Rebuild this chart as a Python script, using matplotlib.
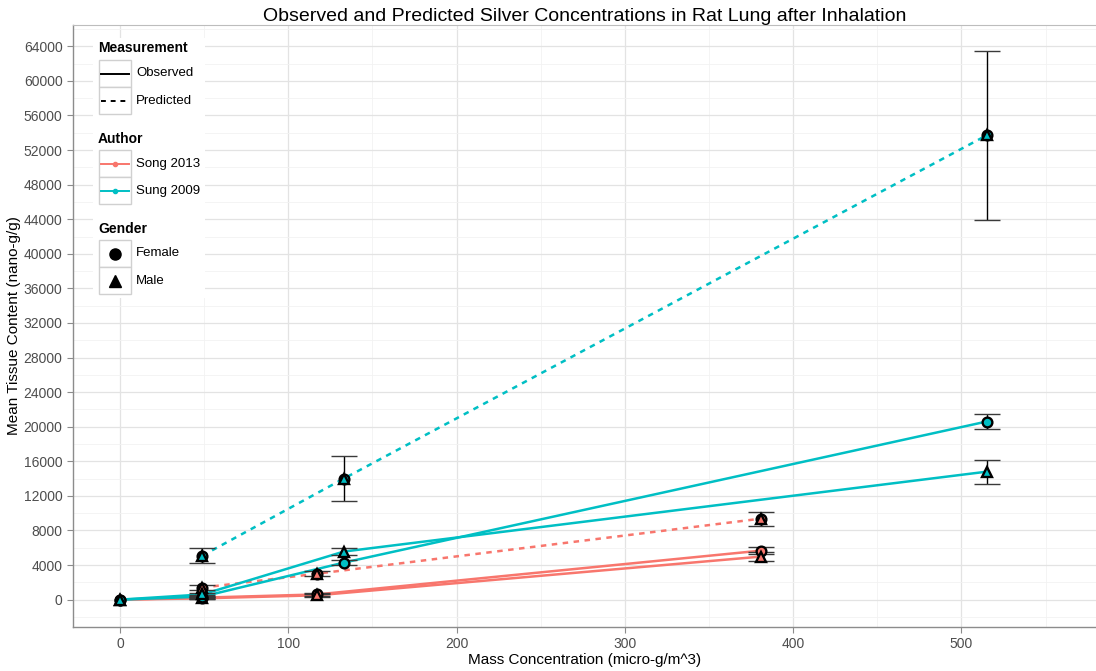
import matplotlib
matplotlib.use("Agg")
import matplotlib.pyplot as plt
from matplotlib.lines import Line2D
from matplotlib.patches import Rectangle
from matplotlib.ticker import MultipleLocator

plt.rcParams['font.family'] = ['Liberation Sans', 'DejaVu Sans']

# Song 2013
song_x = [0, 49, 117, 381]
song_obs_f = [0, 230, 600, 5670]
song_obs_f_sd = [0, 120, 200, 380]
song_obs_m = [0, 150, 500, 4980]
song_obs_m_sd = [0, 120, 200, 560]
song_pred_x = [49, 117, 381]
song_pred = [1390, 3000, 9370]
song_pred_sd = [250, 300, 800]

# Sung 2009
sung_x = [0, 49, 133, 515]
sung_obs_f = [0, 350, 4280, 20600]
sung_obs_f_sd = [0, 150, 300, 900]
sung_obs_m = [0, 600, 5560, 14800]
sung_obs_m_sd = [0, 150, 450, 1400]
sung_pred_x = [49, 133, 515]
sung_pred = [5090, 14000, 53700]
sung_pred_sd = [870, 2600, 9780]

authors = ["Song 2013", "Sung 2009"]
author_colors = {"Song 2013": "#F8766D", "Sung 2009": "#00BFC4"}
measurements = ["Observed", "Predicted"]
genders = ["Female", "Male"]
gender_markers = {"Female": "o", "Male": "^"}

W, H = 1096, 671
fig = plt.figure(figsize=(W / 100, H / 100), dpi=100)
ax = fig.add_axes([73 / W, 1 - 627 / H, (1096 - 73) / W, (627 - 25) / H])

ax.set_xlim(-27.9, 580)
ax.set_ylim(-3165, 66465)
ax.xaxis.set_major_locator(MultipleLocator(100))
ax.xaxis.set_minor_locator(MultipleLocator(50))
ax.yaxis.set_major_locator(MultipleLocator(4000))
ax.yaxis.set_minor_locator(MultipleLocator(2000))
ax.grid(which='major', color='#e3e3e3', lw=0.9, zorder=0)
ax.grid(which='minor', color='#f2f2f2', lw=0.6, zorder=0)
ax.set_axisbelow(True)

for side in ['left', 'bottom']:
    ax.spines[side].set_color('#8c8c8c')
    ax.spines[side].set_linewidth(1.0)
ax.spines['top'].set_color('#bdbdbd')
ax.spines['right'].set_visible(False)
ax.tick_params(which='major', direction='out', length=4, color='#8c8c8c',
               labelsize=10, labelcolor='#4d4d4d')
ax.tick_params(which='minor', length=0)

cap_w = 15.5

def errorbars(xs, ys, sds):
    for x, y, s in zip(xs, ys, sds):
        if s <= 0:
            continue
        ax.vlines(x, y - s, y + s, color='black', lw=1.0, zorder=3)
        ax.hlines([y - s, y + s], x - cap_w / 2, x + cap_w / 2,
                  color='#3a3a3a', lw=1.0, zorder=3)

series = [
    ("Song 2013", song_x, song_obs_f, song_obs_f_sd, song_obs_m, song_obs_m_sd,
     song_pred_x, song_pred, song_pred_sd),
    ("Sung 2009", sung_x, sung_obs_f, sung_obs_f_sd, sung_obs_m, sung_obs_m_sd,
     sung_pred_x, sung_pred, sung_pred_sd),
]

for name, xs, f, fsd, m, msd, px, p, psd in series:
    c = author_colors[name]
    ax.plot(xs, f, color=c, lw=1.8, zorder=2)
    ax.plot(xs, m, color=c, lw=1.8, zorder=2)
    ax.plot(px, p, color=c, lw=1.8, ls=(0, (2.2, 2.2)), zorder=2)

for name, xs, f, fsd, m, msd, px, p, psd in series:
    errorbars(xs, f, fsd)
    errorbars(xs, m, msd)
    errorbars(px, p, psd)

for name, xs, f, fsd, m, msd, px, p, psd in series:
    c = author_colors[name]
    kw = dict(ls='none', mfc=c, mec='black', mew=1.7, ms=7, zorder=4)
    ax.plot(xs, f, marker=gender_markers["Female"], **kw)
    ax.plot(xs, m, marker=gender_markers["Male"], **kw)
    ax.plot(px, p, marker=gender_markers["Female"], **kw)
    ax.plot(px, p, marker=gender_markers["Male"], **kw)

ax.set_title("Observed and Predicted Silver Concentrations in Rat Lung after Inhalation",
             fontsize=14, color='black', pad=3)
ax.set_xlabel("Mass Concentration (micro-g/m^3)", fontsize=11, labelpad=1)
ax.set_ylabel("Mean Tissue Content (nano-g/g)", fontsize=11, labelpad=2)

# Legend, drawn in pixel coordinates on the figure
def fx(x):
    return x / W

def fy(y):
    return 1 - y / H

fig.patches.append(Rectangle((fx(93), fy(298)), fx(205) - fx(93), fy(38) - fy(298),
                             transform=fig.transFigure, facecolor='white',
                             edgecolor='none', zorder=5))

key_x0, key_x1 = 99, 131

def key_box(ytop):
    fig.patches.append(Rectangle((fx(key_x0), fy(ytop + 27)), fx(key_x1) - fx(key_x0),
                                 fy(ytop) - fy(ytop + 27), transform=fig.transFigure,
                                 facecolor='white', edgecolor='#d0d0d0', lw=1.0, zorder=6))

def legend_text(x, y, s, bold=False):
    fig.text(fx(x), fy(y), s, fontsize=10 if bold else 9.5,
             fontweight='bold' if bold else 'normal',
             va='center', ha='left', color='black', zorder=8)

groups = [
    ("Measurement", 48, 60),
    ("Author", 139, 150),
    ("Gender", 229, 240),
]
for title, ty, ktop in groups:
    legend_text(98, ty, title, bold=True)
    key_box(ktop)
    key_box(ktop + 27)

# Measurement keys
for i, meas in enumerate(measurements):
    yc = 60 + 27 * i + 13.5
    ls = '-' if meas == "Observed" else (0, (2.5, 2.5))
    fig.add_artist(Line2D([fx(key_x0 + 2), fx(key_x1 - 2)], [fy(yc), fy(yc)], color='black',
                          lw=1.4, ls=ls, transform=fig.transFigure, zorder=7))
    legend_text(136, yc, meas)

# Author keys
for i, name in enumerate(authors):
    yc = 150 + 27 * i + 13.5
    c = author_colors[name]
    fig.add_artist(Line2D([fx(key_x0 + 2), fx(key_x1 - 2)], [fy(yc), fy(yc)], color=c,
                          lw=1.4, transform=fig.transFigure, zorder=7))
    fig.add_artist(Line2D([fx((key_x0 + key_x1) / 2)], [fy(yc)], color=c, marker='o', ms=3,
                          transform=fig.transFigure, zorder=7))
    legend_text(136, yc, name)

# Gender keys
for i, g in enumerate(genders):
    yc = 240 + 27 * i + 13.5
    fig.add_artist(Line2D([fx((key_x0 + key_x1) / 2)], [fy(yc)], color='black',
                          marker=gender_markers[g], ms=8, ls='none',
                          transform=fig.transFigure, zorder=7))
    legend_text(136, yc, g)

fig.savefig("out.png", dpi=100)
